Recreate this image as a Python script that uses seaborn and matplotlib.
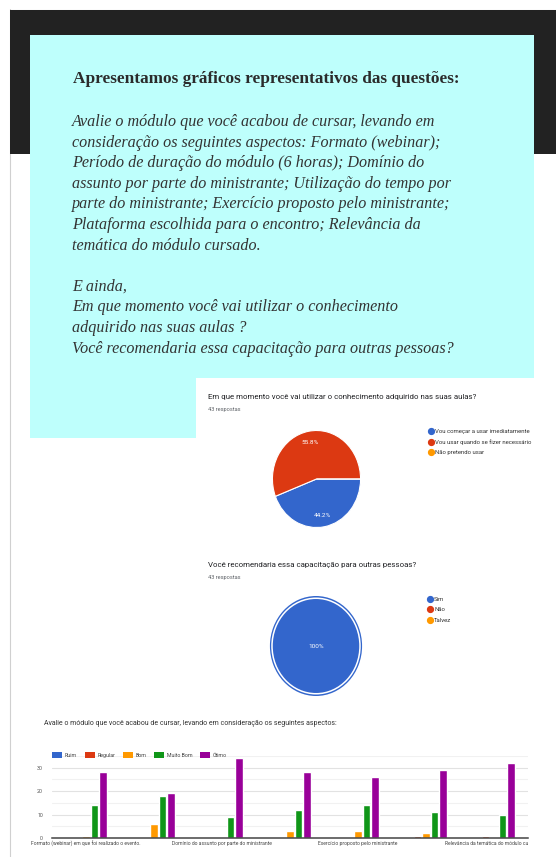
import numpy as np
import pandas as pd
import seaborn as sns
import matplotlib.pyplot as plt
from matplotlib.patches import Rectangle, Circle, Patch
from matplotlib.lines import Line2D
from matplotlib.transforms import Bbox

sns.set_theme(style="white")
plt.rcParams['font.family'] = ['Roboto', 'DejaVu Sans']

# ---------------- data ----------------
titulo = "Apresentamos gráficos representativos das questões:"
paragrafo = [
    "Avalie o módulo que você acabou de cursar, levando em",
    "consideração os seguintes aspectos: Formato (webinar);",
    "Período de duração do módulo (6 horas); Domínio do",
    "assunto por parte do ministrante; Utilização do tempo por",
    "parte do ministrante; Exercício proposto pelo ministrante;",
    "Plataforma escolhida para o encontro; Relevância da",
    "temática do módulo cursado.",
    "",
    "E ainda,",
    "Em que momento você vai utilizar o conhecimento",
    "adquirido nas suas aulas ?",
    "Você recomendaria essa capacitação para outras pessoas?",
]

pergunta_uso = "Em que momento você vai utilizar o conhecimento adquirido nas suas aulas?"
uso_labels = ["Vou começar a usar imediatamente",
              "Vou usar quando se fizer necessário",
              "Não pretendo usar"]
uso_counts = [19, 24, 0]

pergunta_rec = "Você recomendaria essa capacitação para outras pessoas?"
rec_labels = ["Sim", "Não", "Talvez"]
rec_counts = [43, 0, 0]

respostas_txt = "43 respostas"

pergunta_aval = ("Avalie o módulo que você acabou de cursar, levando em "
                 "consideração os seguintes aspectos:")
aspectos = [
    "Formato (webinar) em que foi realizado o evento.",
    "Período de duração do módulo (6 horas)",
    "Domínio do assunto por parte do ministrante",
    "Utilização do tempo por parte do ministrante",
    "Exercício proposto pelo ministrante",
    "Plataforma escolhida para o encontro",
    "Relevância da temática do módulo cursado.",
]
niveis = ["Ruim", "Regular", "Bom", "Muito Bom", "Ótimo"]
ruim      = [0, 0, 0, 0, 0, 0, 0]
regular   = [0, 0, 0, 0, 0, 1, 1]
bom       = [1, 6, 0, 3, 3, 2, 0]
muito_bom = [14, 18, 9, 12, 14, 11, 10]
otimo     = [28, 19, 34, 28, 26, 29, 32]
y_ticks = [0, 10, 20, 30]

# ---------------- style ----------------
BLUE, RED, ORANGE, GREEN, PURPLE = "#3366CC", "#DC3912", "#FF9900", "#109618", "#990099"
CYAN = "#BEFFFC"
DARK = "#222222"

W, H = 556, 857
fig = plt.figure(figsize=(W / 100, H / 100), dpi=100)
fig.patch.set_facecolor("white")


def fx(x):
    return x / W


def fy(y):
    return 1 - y / H


def box(x0, y0, x1, y1):
    return [fx(x0), fy(y1), (x1 - x0) / W, (y1 - y0) / H]


def rect(x0, y0, x1, y1, color, z, **kw):
    fig.add_artist(Rectangle((fx(x0), fy(y1)), (x1 - x0) / W, (y1 - y0) / H,
                             transform=fig.transFigure, facecolor=color,
                             edgecolor="none", zorder=z, **kw))


# page frame, dark header band, cyan text card and white chart panel
fig.add_artist(Line2D([fx(9.5), fx(9.5)], [fy(9), 0], transform=fig.transFigure,
                      color="#d0d0d0", lw=0.8, zorder=-20))
fig.add_artist(Line2D([fx(9.5), 1], [fy(9.5), fy(9.5)], transform=fig.transFigure,
                      color="#c8c8c8", lw=0.8, zorder=-20))
rect(10, 10, 556, 154, DARK, -19)
rect(30, 35, 534, 438, CYAN, -18)
rect(196, 378, 556, 705, "white", -17)

# serif text on the card
fig.text(fx(73), fy(79), titulo, family="Liberation Serif", fontsize=12.4,
         weight="bold", color="#2b2b2b", va="center", ha="left")
line_y = 122
for ln in paragrafo:
    if ln:
        fig.text(fx(72), fy(line_y), ln, family="Liberation Serif", style="italic",
                 fontsize=11.6, color="#333333", va="center", ha="left")
    line_y += 20.6


def pct_fmt(p):
    if p <= 0:
        return ""
    return f"{p:.1f}".rstrip("0").rstrip(".") + "%"


def pie_legend(ax, labels, colors, x, y):
    handles = [Line2D([], [], marker="o", ls="", markersize=4.2,
                      markerfacecolor=c, markeredgecolor=c) for c in colors]
    ax.legend(handles, labels, loc="upper left", bbox_to_anchor=(fx(x), fy(y)),
              bbox_transform=fig.transFigure, frameon=False, fontsize=4.3,
              labelspacing=0.85, handletextpad=0.2, borderpad=0, borderaxespad=0,
              handlelength=1.0, labelcolor="#333333")


# ---- pie 1 ----
fig.text(fx(208), fy(397), pergunta_uso, fontsize=5.7, color="#202124", va="center")
fig.text(fx(208), fy(409), respostas_txt, fontsize=4.1, color="#5f6368", va="center")
ax1 = fig.add_axes(box(272, 430, 361, 528))
ax1.pie(uso_counts, colors=[BLUE, RED, ORANGE], startangle=0, counterclock=False,
        autopct=pct_fmt, pctdistance=0.76,
        wedgeprops=dict(edgecolor="white", linewidth=0.8),
        textprops=dict(color="white", fontsize=4.6))
ax1.set_xlim(-1.01, 1.01)
ax1.set_ylim(-1.01, 1.01)
ax1.set_aspect("auto")
ax1.set_facecolor("none")
pie_legend(ax1, uso_labels, [BLUE, RED, ORANGE], 428, 429)

# ---- pie 2 ----
fig.text(fx(208), fy(565), pergunta_rec, fontsize=5.7, color="#202124", va="center")
fig.text(fx(208), fy(578), respostas_txt, fontsize=4.1, color="#5f6368", va="center")
ax2 = fig.add_axes(box(269, 595, 363, 697))
ax2.pie(rec_counts, colors=[BLUE, RED, ORANGE], startangle=0, counterclock=False,
        radius=1.0, autopct=pct_fmt, pctdistance=0.0,
        wedgeprops=dict(linewidth=0),
        textprops=dict(color="white", fontsize=4.6))
# white inner ring of the full slice
ax2.add_patch(Circle((0, 0), 0.955, fill=False, edgecolor="white", linewidth=1.1))
ax2.set_xlim(-1.02, 1.02)
ax2.set_ylim(-1.02, 1.02)
ax2.set_aspect("auto")
ax2.set_facecolor("none")
pie_legend(ax2, rec_labels, [BLUE, RED, ORANGE], 427, 597)

# ---- grouped bars ----
fig.text(fx(44), fy(723), pergunta_aval, fontsize=5.0, color="#333333", va="center")

df = pd.DataFrame({
    "aspecto": np.repeat(aspectos, len(niveis)),
    "avaliação": niveis * len(aspectos),
    "respostas": np.column_stack([ruim, regular, bom, muito_bom, otimo]).ravel(),
})
palette = dict(zip(niveis, [BLUE, RED, ORANGE, GREEN, PURPLE]))

axb = fig.add_axes(box(52, 756, 528, 838))
sns.barplot(data=df, x="aspecto", y="respostas", hue="avaliação", order=aspectos,
            hue_order=niveis, palette=palette, width=0.63, gap=0.12,
            saturation=1, legend=False, ax=axb, errorbar=None)
axb.set_ylim(0, 35)
axb.set_xlim(-0.5, len(aspectos) - 0.5)
axb.set_yticks(y_ticks)
axb.set_yticks([5, 15, 25, 35], minor=True)
axb.grid(axis="y", which="major", color="#e2e2e2", linewidth=0.8)
axb.grid(axis="y", which="minor", color="#f1f1f1", linewidth=0.8)
axb.set_axisbelow(True)
for s in ["top", "right", "left"]:
    axb.spines[s].set_visible(False)
axb.spines["bottom"].set_color("#444444")
axb.spines["bottom"].set_linewidth(1.1)
axb.set_xlabel("")
axb.set_ylabel("")
shown = [0, 2, 4, 6]
axb.set_xticks(shown)
axb.set_xticklabels([aspectos[i] for i in shown])
axb.tick_params(axis="x", length=0, pad=2.5, labelsize=3.6, labelcolor="#444444")
axb.tick_params(axis="y", which="both", length=0, pad=6.5, labelsize=3.8,
                labelcolor="#555555")
axb.set_facecolor("none")
for lab in axb.get_xticklabels():
    lab.set_clip_box(Bbox.from_extents(0, 0, 528, H))
    lab.set_clip_on(True)

handles = [Patch(facecolor=palette[n], edgecolor="none") for n in niveis]
axb.legend(handles, niveis, ncol=5, loc="center left",
           bbox_to_anchor=(fx(52), fy(755)), bbox_transform=fig.transFigure,
           frameon=False, fontsize=3.8, handlelength=1.9, handleheight=1.2,
           handletextpad=0.55, columnspacing=1.4, borderpad=0, borderaxespad=0,
           labelcolor="#444444")

fig.savefig("out.png", dpi=100, facecolor="white")
